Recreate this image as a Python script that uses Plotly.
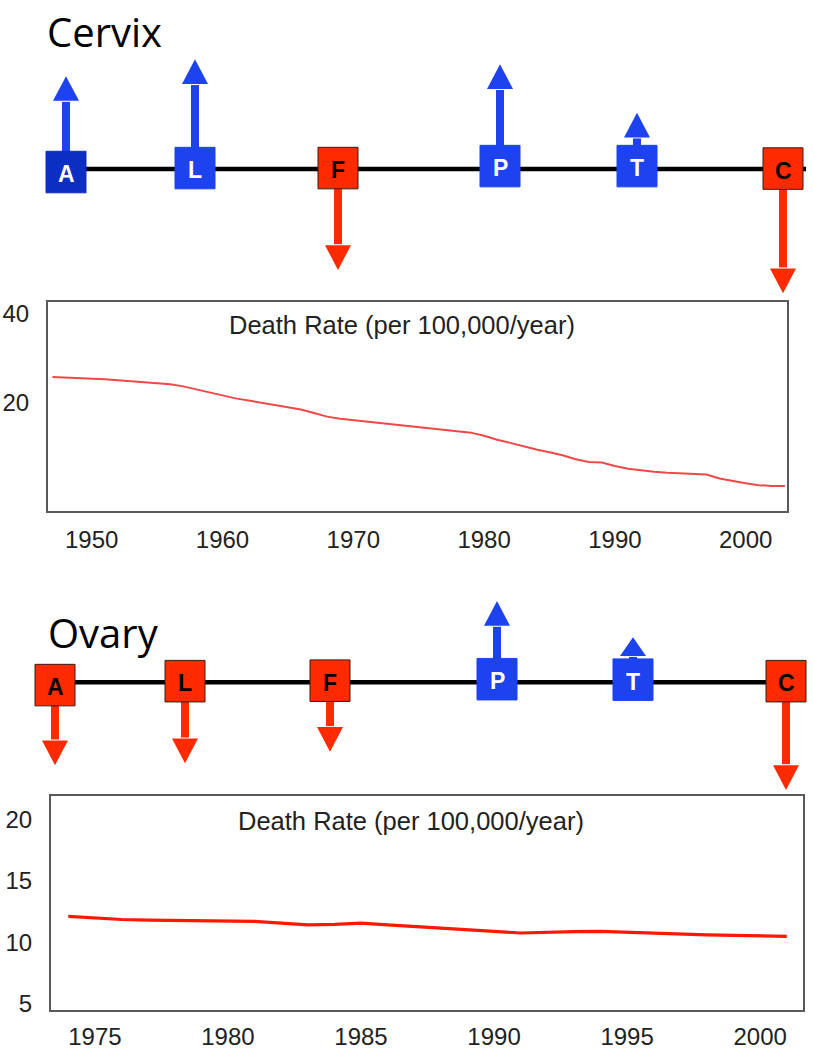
import plotly.graph_objects as go

# ---------------- data ----------------
cervix_years = list(range(1947, 2004))
cervix_rate = [25.7, 25.6, 25.4, 25.3, 25.2, 25.0, 24.8, 24.5, 24.3, 24.1,
               23.6, 22.9, 22.2, 21.5, 20.9, 20.4, 19.9, 19.4, 18.9, 18.4,
               17.6, 16.8, 16.3, 16.0, 15.7, 15.4, 15.0, 14.7, 14.4, 14.2,
               13.9, 13.6, 13.2, 12.5, 11.6, 10.9, 10.1, 9.4, 8.8, 8.1,
               7.2, 6.6, 6.5, 5.7, 5.1, 4.7, 4.4, 4.2, 4.1, 4.0,
               3.8, 2.9, 2.3, 1.8, 1.4, 1.2, 1.2]
cervix_xticks = [1950, 1960, 1970, 1980, 1990, 2000]
cervix_yticks = [20, 40]

ovary_years = list(range(1974, 2002))
ovary_rate = [12.1, 11.95, 11.85, 11.8, 11.77, 11.75, 11.72, 11.7, 11.55, 11.42,
              11.45, 11.55, 11.42, 11.3, 11.15, 11.02, 10.88, 10.75, 10.82, 10.86,
              10.88, 10.8, 10.72, 10.66, 10.6, 10.55, 10.5, 10.48]
ovary_xticks = [1975, 1980, 1985, 1990, 1995, 2000]
ovary_yticks = [5, 10, 15, 20]

# timeline events: letter and signed effect (up = positive, down = negative)
cervix_letters = ["A", "L", "F", "P", "T", "C"]
cervix_effect = [76, 89, -82, 82, 33, -105]
ovary_letters = ["A", "L", "F", "P", "T", "C"]
ovary_effect = [-60, -62, -51, 58, 22, -89]

chart_title = "Death Rate (per 100,000/year)"

# ---------------- layout helpers ----------------
W, H = 813, 1050


def px(x):
    return x / W


def py(y):
    return 1 - y / H


BLUE = "#1c43ef"
DARK_BLUE = "#0c2ec2"
RED = "#ff2a00"

shapes = []
annotations = []


def timeline(letters, effects, cxs, cys, line_y, x_start, x_end, first_dark=False):
    bw, bh = 40, 42
    shapes.append(dict(type="line", xref="paper", yref="paper",
                       x0=px(x_start), x1=px(x_end), y0=py(line_y), y1=py(line_y),
                       line=dict(color="black", width=4.5), layer="above"))
    for i, (lt, ef) in enumerate(zip(letters, effects)):
        cx, cy = cxs[i], cys[i]
        up = ef > 0
        color = BLUE if up else RED
        box_color = DARK_BLUE if (up and first_dark and i == 0) else color
        L = abs(ef)
        hh = min(25, L - 3)
        hw = 13
        sw = 4
        if up:
            edge = cy - bh / 2
            tip = edge - L
            base = tip + hh
            shaft = (edge + 2, base + 1)
        else:
            edge = cy + bh / 2
            tip = edge + L
            base = tip - hh
            shaft = (edge - 2, base - 1)
        shapes.append(dict(type="rect", xref="paper", yref="paper",
                           x0=px(cx - sw), x1=px(cx + sw),
                           y0=py(shaft[0]), y1=py(shaft[1]),
                           fillcolor=color, line=dict(width=0), layer="above"))
        path = "M {:.5f},{:.5f} L {:.5f},{:.5f} L {:.5f},{:.5f} Z".format(
            px(cx - hw), py(base), px(cx + hw), py(base), px(cx), py(tip))
        shapes.append(dict(type="path", xref="paper", yref="paper", path=path,
                           fillcolor=color, line=dict(width=0), layer="above"))
        shapes.append(dict(type="rect", xref="paper", yref="paper",
                           x0=px(cx - bw / 2), x1=px(cx + bw / 2),
                           y0=py(cy - bh / 2), y1=py(cy + bh / 2),
                           fillcolor=box_color,
                           line=dict(color="#3a1a10" if not up else box_color, width=1),
                           layer="above"))
        annotations.append(dict(xref="paper", yref="paper", x=px(cx), y=py(cy + 2),
                                text="<b>%s</b>" % lt, showarrow=False,
                                xanchor="center", yanchor="middle",
                                font=dict(family="Liberation Sans, Arial", size=23,
                                          color="white" if up else "black")))


timeline(cervix_letters, cervix_effect,
         [66, 195, 338, 500, 637, 783], [172, 168, 168, 166, 166, 168.5],
         169, 66, 806, first_dark=True)
timeline(ovary_letters, ovary_effect,
         [55, 185, 330, 497, 633, 786], [691, 687, 686.5, 685, 685.5, 687],
         688, 55, 806)

annotations.append(dict(xref="paper", yref="paper", x=px(45), y=py(0),
                        text="Cervix", showarrow=False, xanchor="left", yanchor="top",
                        font=dict(family="Open Sans", size=40, color="black")))
annotations.append(dict(xref="paper", yref="paper", x=px(46), y=py(638),
                        text="Ovary", showarrow=False, xanchor="left", yanchor="middle",
                        font=dict(family="Open Sans", size=40, color="black")))

annotations.append(dict(xref="paper", yref="paper", x=px(402), y=py(327),
                        text=chart_title, showarrow=False, xanchor="center", yanchor="middle",
                        font=dict(family="Liberation Sans, Arial", size=25.5, color="#222")))
annotations.append(dict(xref="paper", yref="paper", x=px(411), y=py(828),
                        text=chart_title, showarrow=False, xanchor="center", yanchor="middle",
                        font=dict(family="Liberation Sans, Arial", size=25.5, color="#222")))

fig = go.Figure()
fig.add_trace(go.Scatter(x=cervix_years, y=cervix_rate, mode="lines",
                         line=dict(color="#f04848", width=2), xaxis="x", yaxis="y",
                         showlegend=False, hoverinfo="skip"))
fig.add_trace(go.Scatter(x=ovary_years, y=ovary_rate, mode="lines",
                         line=dict(color="#ff1800", width=3.2), xaxis="x2", yaxis="y2",
                         showlegend=False, hoverinfo="skip"))

axis_common = dict(showline=True, mirror=True, linecolor="#5a5a5a", linewidth=2,
                   showgrid=False, zeroline=False, ticks="",
                   tickfont=dict(family="Liberation Sans, Arial", size=24, color="#222"))

fig.update_layout(
    width=W, height=H,
    margin=dict(l=0, r=0, t=0, b=0),
    paper_bgcolor="white", plot_bgcolor="white",
    xaxis=dict(domain=[px(48), px(787)], range=[1946.66, 2003.16],
               tickvals=cervix_xticks, anchor="y", ticklabelstandoff=6, **axis_common),
    yaxis=dict(domain=[py(515), py(303)], range=[-4.44, 42.67],
               tickvals=cervix_yticks, anchor="x", ticklabelstandoff=12, **axis_common),
    xaxis2=dict(domain=[px(51), px(803)], range=[1973.35, 2001.61],
                tickvals=ovary_xticks, anchor="y2", ticklabelstandoff=4, **axis_common),
    yaxis2=dict(domain=[py(1020), py(803)], range=[4.44, 21.94],
                tickvals=ovary_yticks, anchor="x2", ticklabelstandoff=12, **axis_common),
    shapes=shapes,
    annotations=annotations,
)

fig.write_html("out.html", config={"displayModeBar": False},
               post_script="document.body.style.margin='0';document.body.style.overflow='hidden';")
